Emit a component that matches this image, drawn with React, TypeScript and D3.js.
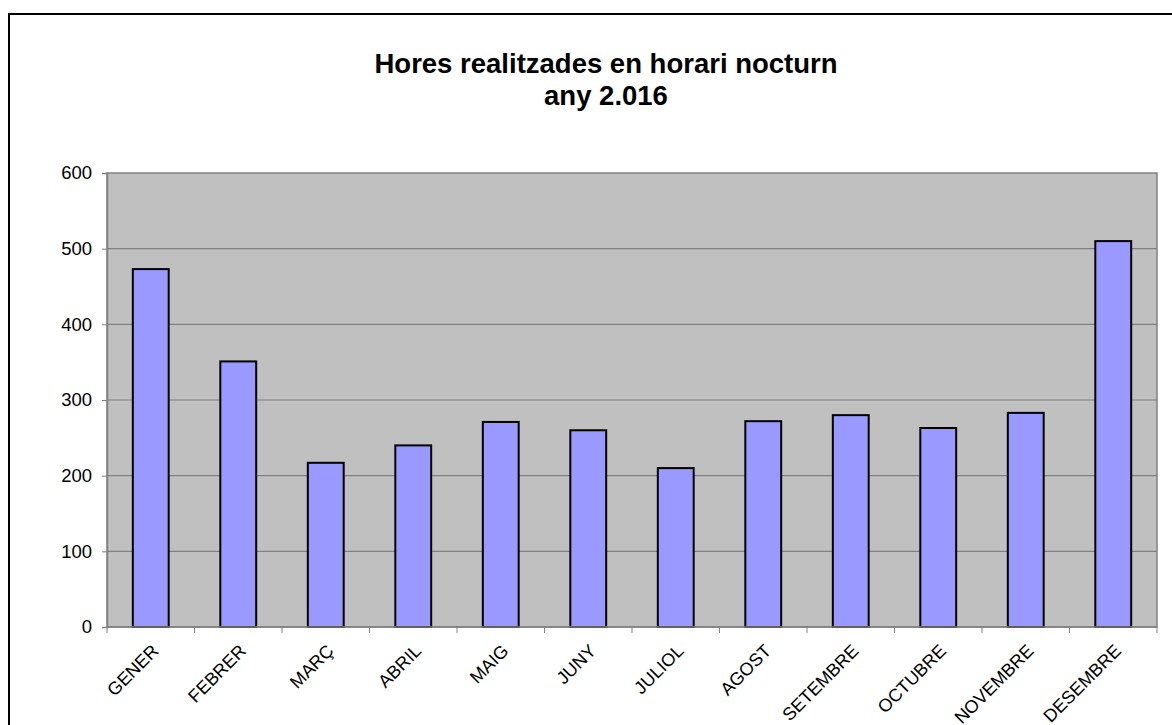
import React, { useEffect, useRef } from 'react';
import * as d3 from 'd3';

const months = ['GENER', 'FEBRER', 'MARÇ', 'ABRIL', 'MAIG', 'JUNY', 'JULIOL', 'AGOST', 'SETEMBRE', 'OCTUBRE', 'NOVEMBRE', 'DESEMBRE'];
const hours = [473, 351, 217, 240, 271, 260, 210, 272, 280, 263, 283, 510];
const yTicks = [0, 100, 200, 300, 400, 500, 600];
const titleLines = ['Hores realitzades en horari nocturn', 'any 2.016'];

function App() {
  const ref = useRef<SVGSVGElement>(null);

  useEffect(() => {
    const svg = d3.select(ref.current);
    svg.selectAll('*').remove();

    const width = 1172, height = 725;
    const plot = { left: 107, right: 1157, top: 173, bottom: 627 };
    const font = '"Liberation Sans", Arial, sans-serif';

    svg.append('rect').attr('width', width).attr('height', height).attr('fill', '#fff');

    // outer chart frame (runs past the right/bottom edge)
    svg.append('rect')
      .attr('x', 9).attr('y', 14)
      .attr('width', width + 20).attr('height', height + 20)
      .attr('fill', 'none').attr('stroke', '#000').attr('stroke-width', 2);

    svg.append('g')
      .selectAll('text')
      .data(titleLines)
      .join('text')
      .attr('x', 606)
      .attr('y', (d, i) => 73 + i * 32)
      .attr('text-anchor', 'middle')
      .attr('font-family', font)
      .attr('font-weight', 'bold')
      .attr('font-size', 27.5)
      .text(d => d);

    const x = d3.scaleBand()
      .domain(months)
      .range([plot.left, plot.right])
      .paddingInner(0.59)
      .paddingOuter(0.295);

    const y = d3.scaleLinear()
      .domain([0, 600])
      .range([plot.bottom, plot.top]);

    // plot area
    svg.append('rect')
      .attr('x', plot.left).attr('y', plot.top)
      .attr('width', plot.right - plot.left).attr('height', plot.bottom - plot.top)
      .attr('fill', '#c0c0c0').attr('stroke', '#808080').attr('stroke-width', 1.5);

    svg.append('g')
      .selectAll('line')
      .data(yTicks.slice(1, -1))
      .join('line')
      .attr('x1', plot.left).attr('x2', plot.right)
      .attr('y1', d => y(d)).attr('y2', d => y(d))
      .attr('stroke', '#808080').attr('stroke-width', 1.2);

    svg.append('g')
      .selectAll('rect')
      .data(hours)
      .join('rect')
      .attr('x', (d, i) => x(months[i])!)
      .attr('y', d => y(d))
      .attr('width', x.bandwidth())
      .attr('height', d => y(0) - y(d))
      .attr('fill', '#9999ff')
      .attr('stroke', '#000')
      .attr('stroke-width', 2);

    // y axis
    const yAxis = svg.append('g')
      .attr('transform', `translate(${plot.left},0)`)
      .call(d3.axisLeft(y).tickValues(yTicks).tickSize(5).tickPadding(10));
    yAxis.select('.domain').attr('stroke', '#808080').attr('stroke-width', 1.5);
    yAxis.selectAll('.tick line').attr('stroke', '#808080');
    yAxis.selectAll('text')
      .attr('font-family', font).attr('font-size', 18.5).attr('fill', '#000');

    // x axis: ticks at band boundaries
    const step = x.step();
    const bounds = d3.range(months.length + 1).map(i => plot.left + i * step);
    svg.append('line')
      .attr('x1', plot.left).attr('x2', plot.right)
      .attr('y1', plot.bottom).attr('y2', plot.bottom)
      .attr('stroke', '#808080').attr('stroke-width', 1.5);
    svg.append('g')
      .selectAll('line')
      .data(bounds)
      .join('line')
      .attr('x1', d => d).attr('x2', d => d)
      .attr('y1', plot.bottom).attr('y2', plot.bottom + 6)
      .attr('stroke', '#808080');

    svg.append('g')
      .selectAll('text')
      .data(months)
      .join('text')
      .attr('transform', d => `translate(${x(d)! + x.bandwidth() / 2 + 9},${plot.bottom + 25}) rotate(-45)`)
      .attr('text-anchor', 'end')
      .attr('font-family', font)
      .attr('font-size', 18)
      .text(d => d);
  }, []);

  return (
    <svg ref={ref} width={1172} height={725} style={{ position: 'absolute', left: 0, top: 0 }} />
  );
}

export default App;
